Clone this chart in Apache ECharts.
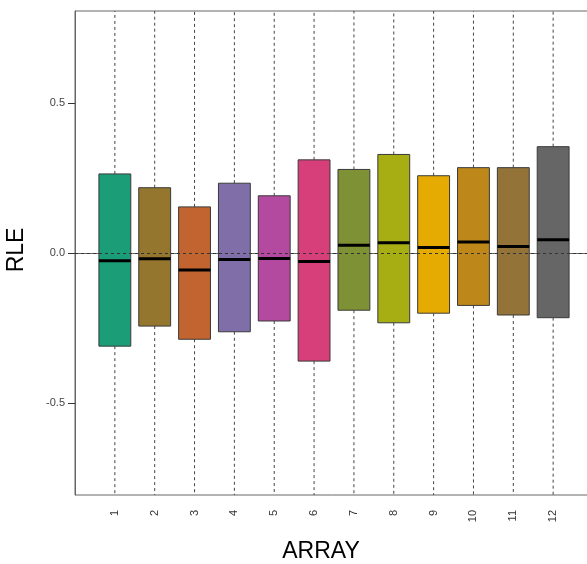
<!DOCTYPE html>
<html>
<head>
<meta charset="utf-8">
<script src="https://cdn.jsdelivr.net/npm/echarts@6/dist/echarts.min.js"></script>
<style>
html,body{margin:0;padding:0;background:#fff;}
#c{width:587px;height:564px;}
</style>
</head>
<body>
<div id="c"></div>
<script>
// Data
var categories = ['1','2','3','4','5','6','7','8','9','10','11','12'];
var q1Values     = [-0.311,-0.244,-0.288,-0.263,-0.227,-0.361,-0.191,-0.233,-0.201,-0.175,-0.207,-0.216];
var medianValues = [-0.026,-0.019,-0.057,-0.022,-0.018,-0.028, 0.026, 0.034, 0.018, 0.037, 0.022, 0.044];
var q3Values     = [ 0.264, 0.218, 0.154, 0.233, 0.191, 0.311, 0.279, 0.329, 0.258, 0.285, 0.285, 0.355];
var boxColors = ['#1B9E77','#94762E','#C2642F','#7F6EA8','#B44A9F','#D63F7A','#7E9135','#A6AE14','#E6AB02','#BE8719','#937338','#666666'];
var yTicks = [-0.5, 0, 0.5];

var yMin = -0.808, yMax = 0.808;
// padded category list: empty slot on each side (axis runs 0..13)
var axisCats = [''].concat(categories).concat(['']);

var chart = echarts.init(document.getElementById('c'), null, {renderer:'canvas'});
var boxData = categories.map(function(c,i){ return [i+1, q1Values[i], medianValues[i], q3Values[i], i]; });

var option = {
  animation:false,
  backgroundColor:'#fff',
  grid:{left:75, width:518, top:11, bottom:69, show:true, borderColor:'#666', borderWidth:1,
        containLabel:false, outerBoundsMode:'none'},
  xAxis:{
    type:'category', data:axisCats, boundaryGap:false,
    axisLine:{show:true, lineStyle:{color:'#666', width:1}},
    axisTick:{show:true, length:7, lineStyle:{color:'#333', width:1}, interval:function(idx){return idx>0 && idx<13;}},
    axisLabel:{show:true, rotate:90, margin:15, fontSize:11, color:'#333', fontFamily:'Liberation Sans, Arial, sans-serif',
      interval:function(idx){return idx>0 && idx<13;}},
    splitLine:{show:false}
  },
  yAxis:{
    type:'value', min:yMin, max:yMax,
    axisLine:{show:true, lineStyle:{color:'#666', width:1}},
    axisTick:{show:true, length:7, lineStyle:{color:'#333'}, customValues:yTicks},
    axisLabel:{show:true, margin:10, fontSize:11, color:'#444', fontFamily:'Liberation Sans, Arial, sans-serif',
      customValues:yTicks, formatter:function(v){return v.toFixed(1);}},
    splitLine:{show:false}
  },
  graphic:[
    {type:'text', style:{text:'ARRAY', x:321, y:552, align:'center', verticalAlign:'middle', fontSize:23, fill:'#000', fontFamily:'Liberation Sans, Arial, sans-serif'}},
    {type:'text', rotation:Math.PI/2, x:17, y:250, style:{text:'RLE', align:'center', verticalAlign:'middle', fontSize:23, fill:'#000', fontFamily:'Liberation Sans, Arial, sans-serif'}}
  ],
  series:[
    {
      type:'custom',
      data:boxData,
      z:2,
      renderItem:function(params, api){
        var x = api.value(0);
        var q1 = api.value(1), med = api.value(2), q3 = api.value(3);
        var idx = api.value(4);
        var pTop = api.coord([x, q3]);
        var pBot = api.coord([x, q1]);
        var pMed = api.coord([x, med]);
        var step = api.coord([x+1, 0])[0] - api.coord([x, 0])[0];
        var hw = step*0.4;
        var pMax = api.coord([x, yMax]);
        var pMin = api.coord([x, yMin]);
        var dash = {stroke:'#444', lineWidth:1, lineDash:[3,3]};
        return {type:'group', children:[
          {type:'line', shape:{x1:pTop[0], y1:pTop[1], x2:pMax[0], y2:pMax[1]}, style:dash},
          {type:'line', shape:{x1:pBot[0], y1:pBot[1], x2:pMin[0], y2:pMin[1]}, style:dash},
          {type:'rect', shape:{x:pTop[0]-hw, y:pTop[1], width:hw*2, height:pBot[1]-pTop[1]},
            style:{fill:boxColors[idx], stroke:'#3a3a3a', lineWidth:1}},
          {type:'line', shape:{x1:pMed[0]-hw, y1:pMed[1], x2:pMed[0]+hw, y2:pMed[1]}, style:{stroke:'#000', lineWidth:3}}
        ]};
      }
    },
    {
      type:'line', data:[], z:10,
      markLine:{silent:true, symbol:['none','none'], label:{show:false},
        lineStyle:{type:[3,3], color:'#333', width:1},
        data:[{yAxis:0}]}
    }
  ]
};
chart.setOption(option);
</script>
</body>
</html>
